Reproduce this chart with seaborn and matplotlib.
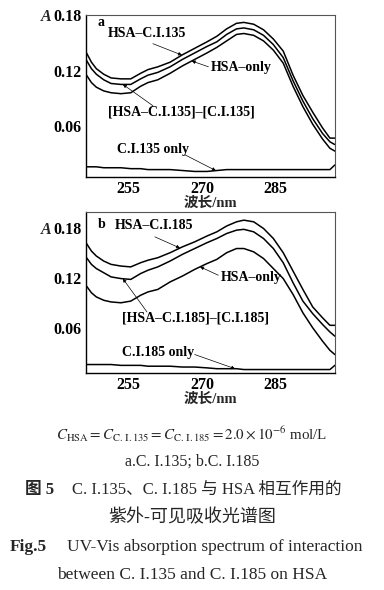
import matplotlib
matplotlib.use('Agg')
import matplotlib.pyplot as plt
import seaborn as sns
import numpy as np

# wavelength grid (nm)
wavelength = [246.5, 247.5, 248.5, 250, 251.5, 253.5, 255.5, 257.5, 259, 261, 263.5, 266, 268.5, 271,
              273, 275, 277, 278.5, 280.5, 282.5, 284.5, 286.5, 288.5, 290.5, 292.5, 294.5, 296, 297]

# panel a: C.I.135
a_hsa_dye = [0.139, 0.129, 0.122, 0.116, 0.112, 0.111, 0.111, 0.117, 0.121, 0.124, 0.129, 0.137, 0.144,
             0.151, 0.157, 0.165, 0.171, 0.172, 0.170, 0.164, 0.154, 0.141, 0.115, 0.093, 0.075, 0.058,
             0.047, 0.047]
a_diff = [0.131, 0.122, 0.116, 0.110, 0.106, 0.105, 0.105, 0.111, 0.115, 0.118, 0.124, 0.132, 0.139,
          0.146, 0.151, 0.159, 0.165, 0.166, 0.164, 0.158, 0.148, 0.134, 0.109, 0.087, 0.068, 0.052,
          0.043, 0.040]
a_hsa_only = [0.115, 0.107, 0.102, 0.098, 0.096, 0.095, 0.096, 0.103, 0.107, 0.110, 0.117, 0.125, 0.132,
              0.139, 0.145, 0.152, 0.159, 0.160, 0.158, 0.152, 0.142, 0.128, 0.103, 0.081, 0.062, 0.046,
              0.036, 0.033]
a_dye_only = [0.016, 0.016, 0.016, 0.015, 0.015, 0.015, 0.014, 0.014, 0.013, 0.013, 0.013, 0.012, 0.011,
              0.011, 0.012, 0.013, 0.013, 0.013, 0.013, 0.013, 0.013, 0.013, 0.013, 0.013, 0.013, 0.013,
              0.013, 0.018]

# panel b: C.I.185
b_hsa_dye = [0.161, 0.152, 0.146, 0.140, 0.136, 0.134, 0.133, 0.138, 0.141, 0.144, 0.150, 0.157, 0.163,
             0.170, 0.175, 0.182, 0.187, 0.189, 0.187, 0.179, 0.167, 0.150, 0.128, 0.106, 0.085, 0.072,
             0.063, 0.063]
b_diff = [0.144, 0.136, 0.131, 0.126, 0.121, 0.119, 0.118, 0.125, 0.129, 0.133, 0.140, 0.148, 0.155,
          0.162, 0.167, 0.173, 0.177, 0.178, 0.175, 0.167, 0.155, 0.138, 0.114, 0.092, 0.077, 0.064,
          0.055, 0.050]
b_hsa_only = [0.110, 0.102, 0.097, 0.093, 0.091, 0.090, 0.092, 0.099, 0.103, 0.106, 0.115, 0.122, 0.130,
              0.137, 0.142, 0.150, 0.155, 0.155, 0.151, 0.143, 0.131, 0.119, 0.100, 0.078, 0.060, 0.044,
              0.033, 0.028]
b_dye_only = [0.016, 0.016, 0.016, 0.016, 0.016, 0.015, 0.015, 0.015, 0.014, 0.014, 0.014, 0.013, 0.013,
              0.012, 0.011, 0.011, 0.011, 0.010, 0.010, 0.010, 0.010, 0.010, 0.010, 0.010, 0.010, 0.010,
              0.010, 0.015]

x_ticks = [255, 270, 285]
y_ticks = [0.06, 0.12, 0.18]
y_tick_labels = ['0.06', '0.12', '0.18']

sns.set_theme(style='white')
plt.rcParams['font.family'] = ['Liberation Serif', 'Noto Sans CJK SC']
plt.rcParams['mathtext.fontset'] = 'stix'

fig = plt.figure(figsize=(3.84, 5.90), dpi=100)
ax_a = fig.add_axes([0.224, 0.700, 0.648, 0.2746])
ax_b = fig.add_axes([0.224, 0.368, 0.648, 0.2730])

arrow = dict(arrowstyle='-|>', lw=0.5, color='black', mutation_scale=5, shrinkA=0, shrinkB=0)
lab_font = dict(fontsize=10, fontweight='bold', color='black')


def draw_panel(ax, series, labels, ylim, letter, letter_y):
    for s in series:
        sns.lineplot(x=wavelength, y=s, color='black', linewidth=1.1, ax=ax, legend=False)
    ax.set_xlim(246.4, 297.0)
    ax.set_ylim(*ylim)
    ax.set_xticks(x_ticks)
    ax.set_yticks(y_ticks)
    ax.set_yticklabels(y_tick_labels)
    ax.tick_params(direction='in', length=3, width=0.8, labelsize=11.5, pad=3, colors='black')
    for lbl in ax.get_xticklabels() + ax.get_yticklabels():
        lbl.set_fontweight('bold')
    for side in ['left', 'bottom']:
        ax.spines[side].set_color('black')
        ax.spines[side].set_linewidth(1.0)
    for side in ['top', 'right']:
        ax.spines[side].set_color('#555555')
        ax.spines[side].set_linewidth(0.8)
    ax.set_xlabel('波长/nm', fontsize=10.5, labelpad=0, fontweight='bold')
    ax.set_ylabel('')
    ax.text(-0.16, 0.18, 'A', transform=ax.get_yaxis_transform(), ha='center', va='center_baseline',
            fontsize=11.5, fontweight='bold', style='italic')
    ax.text(248.8, letter_y, letter, ha='left', va='center', **lab_font)
    for text, (tx, ty) in labels:
        ax.text(tx, ty, text, ha='left', va='center', **lab_font)


def add_arrows(ax, arrows):
    for (tx, ty), curve, wx in arrows:
        ax.annotate('', xy=(wx, np.interp(wx, wavelength, curve)), xytext=(tx, ty), arrowprops=arrow)


labels_a = [
    ('HSA–C.I.135', (250.9, 0.160)),
    ('HSA–only', (271.8, 0.123)),
    ('[HSA–C.I.135]–[C.I.135]', (250.9, 0.075)),
    ('C.I.135 only', (252.7, 0.035)),
]
draw_panel(ax_a, [a_hsa_dye, a_diff, a_hsa_only, a_dye_only], labels_a, (0.005, 0.18), 'a', 0.172)
add_arrows(ax_a, [((260.0, 0.149), a_hsa_dye, 265.9),
                  ((271.3, 0.124), a_hsa_only, 267.9),
                  ((260.0, 0.082), a_diff, 253.9),
                  ((266.5, 0.029), a_dye_only, 272.8)])

labels_b = [
    ('HSA–C.I.185', (252.3, 0.182)),
    ('HSA–only', (273.8, 0.120)),
    ('[HSA–C.I.185]–[C.I.185]', (253.7, 0.072)),
    ('C.I.185 only', (253.7, 0.031)),
]
draw_panel(ax_b, [b_hsa_dye, b_diff, b_hsa_only, b_dye_only], labels_b, (0.006, 0.199), 'b', 0.184)
add_arrows(ax_b, [((260.4, 0.169), b_hsa_dye, 265.5),
                  ((273.3, 0.123), b_hsa_only, 269.6),
                  ((258.8, 0.079), b_diff, 253.9),
                  ((268.5, 0.028), b_dye_only, 276.7)])

# caption
W, H = 384, 590
fig.text(0.5, 1 - 434 / H,
         r'$C_{\mathrm{HSA}}=C_{\mathrm{C.\,I.135}}=C_{\mathrm{C.\,I.185}}=2.0\times10^{-6}$ mol/L',
         ha='center', va='center', fontsize=10.8)
fig.text(0.5, 1 - 462 / H, 'a.C. I.135; b.C. I.185', ha='center', va='center', fontsize=11.5)
fig.text(25 / W, 1 - 490 / H, '图 5', ha='left', va='center', fontsize=12, fontweight='bold')
fig.text(72 / W, 1 - 490 / H, 'C. I.135、C. I.185 与 HSA 相互作用的',
         ha='left', va='center', fontsize=12)
fig.text(0.5, 1 - 518 / H, '紫外-可见吸收光谱图', ha='center', va='center', fontsize=13)
fig.text(10 / W, 1 - 547 / H, 'Fig.5', ha='left', va='center', fontsize=12.5, fontweight='bold')
fig.text(67 / W, 1 - 547 / H, 'UV-Vis absorption spectrum of interaction',
         ha='left', va='center', fontsize=12.5)
fig.text(0.5, 1 - 575 / H, 'between C. I.135 and C. I.185 on HSA', ha='center', va='center', fontsize=12.5)

fig.savefig('out.png', dpi=100)
